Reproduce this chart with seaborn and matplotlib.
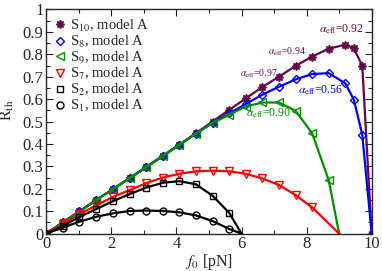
import seaborn as sns
import matplotlib.pyplot as plt
from matplotlib.lines import Line2D
from matplotlib.ticker import MultipleLocator

# marker positions (f0 in pN)
f_pts = [0, 0.51, 1.02, 1.53, 2.04, 2.56, 3.07, 3.58, 4.09, 4.6, 5.11,
         5.62, 6.13, 6.64, 7.15, 7.66, 8.17, 8.68, 9.19, 9.45, 9.71, 10.0]

s1 = [0, 0.027, 0.053, 0.075, 0.090, 0.101, 0.103, 0.101, 0.095, 0.081, 0.056, 0.021]
s2 = [0, 0.034, 0.074, 0.109, 0.144, 0.176, 0.205, 0.227, 0.234, 0.220, 0.169, 0.093]
s7 = [0, 0.043, 0.086, 0.126, 0.163, 0.194, 0.225, 0.250, 0.267, 0.278, 0.281,
      0.278, 0.267, 0.246, 0.217, 0.172, 0.117]
s9 = [0, 0.050, 0.098, 0.148, 0.197, 0.246, 0.296, 0.345, 0.395, 0.446, 0.493,
      0.530, 0.567, 0.585, 0.585, 0.548, 0.448, 0.238]
s8 = [0, 0.050, 0.099, 0.149, 0.197, 0.247, 0.296, 0.346, 0.396, 0.446, 0.494,
      0.536, 0.578, 0.620, 0.655, 0.688, 0.712, 0.716, 0.670, 0.598, 0.442, 0]
s10 = [0, 0.050, 0.100, 0.149, 0.198, 0.248, 0.297, 0.347, 0.397, 0.448, 0.500,
       0.552, 0.603, 0.654, 0.700, 0.748, 0.790, 0.825, 0.843, 0.827, 0.750, 0]

# where each curve reaches zero (no marker there)
f_end = {'S1': 6.0, 'S2': 6.0, 'S7': 9.0, 'S9': 9.0}

maroon = '#670748'
green = '#009000'

sns.set_theme(style="ticks")
plt.rcParams['font.family'] = ['Liberation Serif', 'DejaVu Serif']
plt.rcParams['mathtext.fontset'] = 'stix'

fig, ax = plt.subplots(figsize=(3.82, 2.71), dpi=100)
fig.subplots_adjust(left=0.121, right=0.973, bottom=0.138, top=0.965)

# name, values, colour, marker, filled, marker size
series = [
    ('S10', s10, maroon, (8, 1, 0), True, 6),
    ('S8', s8, 'blue', 'D', False, 4.2),
    ('S9', s9, green, '<', False, 5.2),
    ('S7', s7, 'red', 'v', False, 5.2),
    ('S2', s2, 'black', 's', False, 4.6),
    ('S1', s1, 'black', 'o', False, 5),
]

for name, vals, col, mk, filled, ms in series:
    xs = f_pts[:len(vals)]
    lx, ly = list(xs), list(vals)
    if name in f_end:
        lx.append(f_end[name])
        ly.append(0)
    sns.lineplot(x=lx, y=ly, color=col, lw=1.6, ax=ax, sort=False)
    ax.plot(xs, vals, ls='none', marker=mk, ms=ms,
            mfc=col if filled else 'none', mec=col, mew=1.0)

ax.set_xlim(0, 10)
ax.set_ylim(0, 1)
ax.xaxis.set_major_locator(MultipleLocator(2))
ax.xaxis.set_minor_locator(MultipleLocator(1))
ax.yaxis.set_minor_locator(MultipleLocator(0.05))
ax.set_yticks([i / 10 for i in range(11)])
ax.set_yticklabels(['0'] + ['0.%d' % i for i in range(1, 10)] + ['1'])
ax.tick_params(which='both', direction='in', top=True, right=True,
               labelsize=12, pad=2)
ax.tick_params(which='major', length=5, width=0.8)
ax.tick_params(which='minor', length=3, width=0.8)
for sp in ax.spines.values():
    sp.set_linewidth(1.0)

ax.set_xlabel(r'$f_0$ [pN]', fontsize=11.5, labelpad=0)
ax.set_ylabel(r'R$_{\rm th}$', fontsize=11.5)
ax.yaxis.set_label_coords(-0.092, 0.55)

# annotations
ax.text(8.39, 0.913, r'$\alpha_{\rm eff}$=0.92', color=maroon, fontsize=8.5, va='center')
ax.text(6.80, 0.810, r'$\alpha_{\rm eff}$=0.94', color=maroon, fontsize=7, va='center')
ax.text(5.94, 0.712, r'$\alpha_{\rm eff}$=0.97', color=maroon, fontsize=7, va='center')
ax.text(7.75, 0.640, r'$\alpha_{\rm eff}$=0.56', color='blue', fontsize=8.5, va='center')
ax.text(6.13, 0.538, r'$\alpha_{\rm eff}$=0.90', color=green, fontsize=8.5, va='center')

labels = [r'S$_{10}$, model A', r'S$_8$, model A', r'S$_9$, model A',
          r'S$_7$, model A', r'S$_2$, model A', r'S$_1$, model A']
handles = [Line2D([], [], ls='none', marker=mk, ms=ms,
                  mfc=col if filled else 'none', mec=col, mew=1.0)
           for (name, vals, col, mk, filled, ms) in series]
ax.legend(handles, labels, loc='upper left', frameon=False, fontsize=10.5,
          handletextpad=0.3, labelspacing=0.0, borderaxespad=0.2,
          borderpad=0.35, handlelength=0.8, bbox_to_anchor=(0.0, 1.0))

fig.savefig('out.png', dpi=100)
